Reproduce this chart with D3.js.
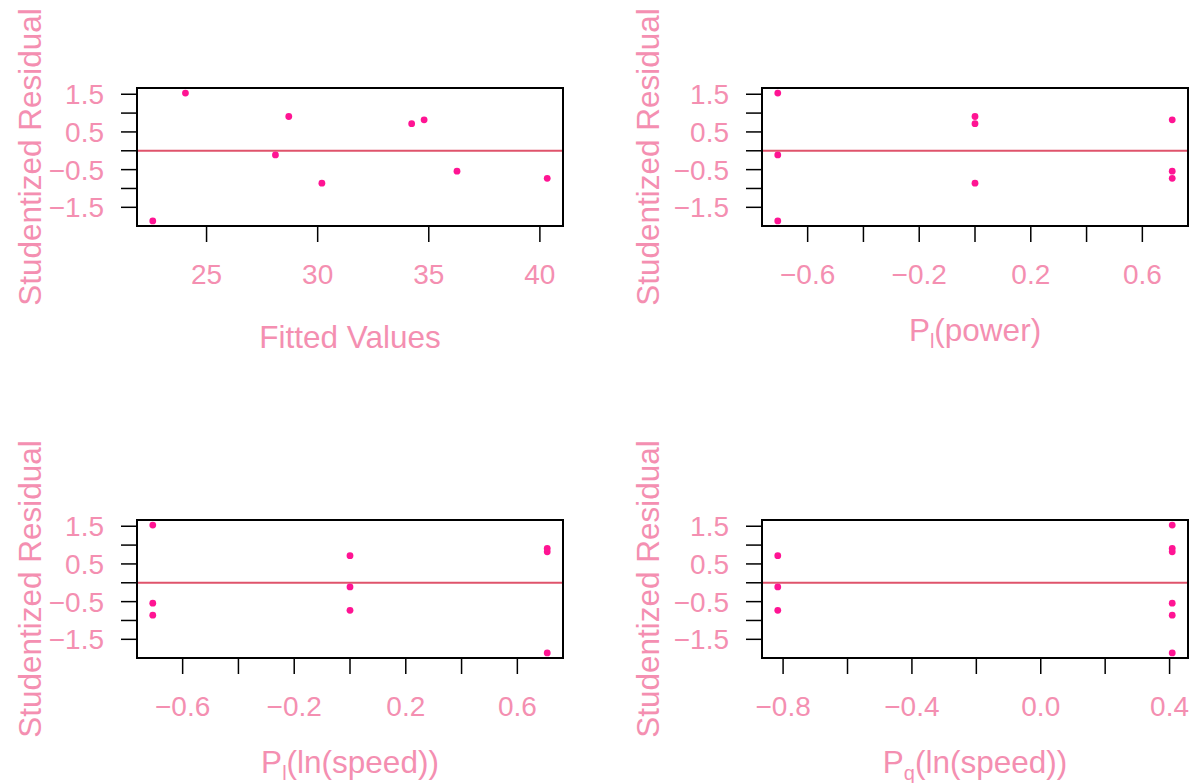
<!DOCTYPE html>
<html>
<head>
<meta charset="utf-8">
<script src="https://cdn.jsdelivr.net/npm/d3@7"></script>
<style>
  body { margin: 0; background: #fff; }
  text { font-family: "Liberation Sans", Arial, sans-serif; }
</style>
</head>
<body>
<div id="chart"></div>
<script>
// studentized residuals of the 9 runs, and the x variables they are plotted against
var fitted = [22.58, 24.05, 28.10, 28.70, 30.19, 34.23, 34.79, 36.27, 40.33];
var residuals = [-1.86, 1.53, -0.11, 0.91, -0.86, 0.72, 0.82, -0.54, -0.73];
var powerLinear = [-0.7071, -0.7071, -0.7071, 0, 0, 0, 0.7071, 0.7071, 0.7071];
var speedLinear = [0.7071, -0.7071, 0, 0.7071, -0.7071, 0, 0.7071, -0.7071, 0];
var speedQuadratic = [0.4082, 0.4082, -0.8165, 0.4082, 0.4082, -0.8165, 0.4082, 0.4082, -0.8165];

// tick positions and the ticks that get a label
var yTicks = [-1.5, -1, -0.5, 0, 0.5, 1, 1.5];
var yLabels = [-1.5, -0.5, 0.5, 1.5];
var fittedTicks = [25, 30, 35, 40];
var linearTicks = [-0.6, -0.4, -0.2, 0, 0.2, 0.4, 0.6];
var linearLabels = [-0.6, -0.2, 0.2, 0.6];
var quadTicks = [-0.8, -0.6, -0.4, -0.2, 0, 0.2, 0.4];
var quadLabels = [-0.8, -0.4, 0, 0.4];

var width = 1193, height = 783;
var textCol = "#F48FB1", pointCol = "#FF1493", lineCol = "#DF536B";
var boxW = 426, boxH = 138;

var svg = d3.select("#chart").append("svg")
    .attr("width", width)
    .attr("height", height);

var panels = [
  {left: 137, top: 88, ylab: -96, x: fitted, ticks: fittedTicks, labels: fittedTicks, fmt: d3.format("d"),
   title: [{t: "Fitted Values"}]},
  {left: 762, top: 88, ylab: -103, x: powerLinear, ticks: linearTicks, labels: linearLabels, fmt: d3.format(".1f"),
   title: [{t: "P"}, {t: "l", sub: true}, {t: "(power)"}]},
  {left: 137, top: 520, ylab: -96, x: speedLinear, ticks: linearTicks, labels: linearLabels, fmt: d3.format(".1f"),
   title: [{t: "P"}, {t: "l", sub: true}, {t: "(ln(speed))"}]},
  {left: 762, top: 520, ylab: -103, x: speedQuadratic, ticks: quadTicks, labels: quadLabels, fmt: d3.format(".1f"),
   title: [{t: "P"}, {t: "q", sub: true}, {t: "(ln(speed))"}]}
];

// R style: pad data range by 4% each side
function padded(v) {
  var e = d3.extent(v), p = (e[1] - e[0]) * 0.04;
  return [e[0] - p, e[1] + p];
}

panels.forEach(function(p) {
  var g = svg.append("g").attr("transform", "translate(" + p.left + "," + p.top + ")");

  var x = d3.scaleLinear().domain(padded(p.x)).range([0, boxW]);
  var y = d3.scaleLinear().domain(padded(residuals)).range([boxH, 0]);

  // x axis ticks + labels
  var xa = g.append("g").attr("transform", "translate(0," + boxH + ")");
  xa.selectAll("line").data(p.ticks).enter().append("line")
      .attr("x1", d => x(d)).attr("x2", d => x(d))
      .attr("y1", 0).attr("y2", 16)
      .attr("stroke", "#000").attr("stroke-width", 1.5);
  xa.selectAll("text").data(p.labels).enter().append("text")
      .attr("x", d => x(d)).attr("y", 58)
      .attr("text-anchor", "middle")
      .style("font-size", "28px").style("fill", textCol)
      .text(d => p.fmt(d).replace("-", "\u2212"));

  // y axis
  var ya = g.append("g");
  ya.selectAll("line").data(yTicks).enter().append("line")
      .attr("x1", 0).attr("x2", -16)
      .attr("y1", d => y(d)).attr("y2", d => y(d))
      .attr("stroke", "#000").attr("stroke-width", 1.5);
  ya.selectAll("text").data(yLabels).enter().append("text")
      .attr("x", -33).attr("y", d => y(d))
      .attr("dy", "0.36em")
      .attr("text-anchor", "end")
      .style("font-size", "28px").style("fill", textCol)
      .text(d => d3.format(".1f")(d).replace("-", "\u2212"));

  // zero line
  g.append("line")
      .attr("x1", 0).attr("x2", boxW)
      .attr("y1", y(0)).attr("y2", y(0))
      .attr("stroke", lineCol).attr("stroke-width", 2);

  // points
  g.selectAll("circle").data(residuals).enter().append("circle")
      .attr("cx", (d, i) => x(p.x[i]))
      .attr("cy", d => y(d))
      .attr("r", 3.4)
      .attr("fill", pointCol);

  // box
  g.append("rect")
      .attr("width", boxW).attr("height", boxH)
      .attr("fill", "none").attr("stroke", "#000").attr("stroke-width", 2);

  // axis titles
  var isExpr = p.title.length > 1;
  var xt = g.append("text")
      .attr("x", boxW / 2).attr("y", boxH + (isExpr ? 115 : 122))
      .attr("text-anchor", "middle")
      .style("font-size", "31.5px").style("fill", textCol);
  p.title.forEach(function(part, k) {
    var ts = xt.append("tspan").text(part.t);
    if (part.sub) ts.attr("dy", "7px").style("font-size", "20px");
    else if (k > 0 && p.title[k - 1].sub) ts.attr("dy", "-7px");
  });

  g.append("text")
      .attr("transform", "translate(" + p.ylab + "," + boxH / 2 + ") rotate(-90)")
      .attr("text-anchor", "middle")
      .style("font-size", "31.5px").style("fill", textCol)
      .text("Studentized Residual");
});
</script>
</body>
</html>
